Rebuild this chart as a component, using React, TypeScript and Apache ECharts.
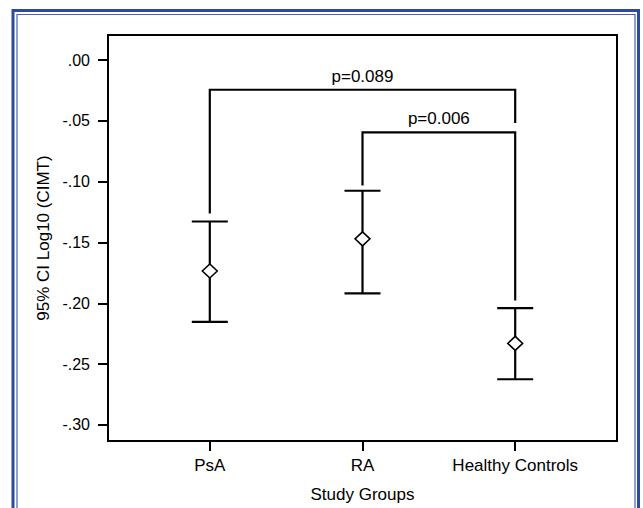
import React, { useEffect, useRef } from 'react';
import * as echarts from 'echarts';

// ---- data ----
const categories = ['PsA', 'RA', 'Healthy Controls'];
const meanValues = [-0.1734, -0.147, -0.233];
const lowerCI = [-0.2153, -0.1919, -0.2625];
const upperCI = [-0.1327, -0.1074, -0.204];

const yTickValues = [0, -0.05, -0.1, -0.15, -0.2, -0.25, -0.3];
const yTickLabels = ['.00', '-.05', '-.10', '-.15', '-.20', '-.25', '-.30'];

const pLabels = ['p=0.089', 'p=0.006'];
const bracketFrom = [0, 1];
const bracketTo = [2, 2];
const bracketTop = [-0.0243, -0.0594];
const bracketLeftEnd = [-0.1262, -0.103];
const bracketRightEnd = [-0.0517, -0.1977];

const FONT = '"Liberation Sans", Arial, Helvetica, sans-serif';

export default function App() {
  const ref = useRef<HTMLDivElement>(null);

  useEffect(() => {
    if (!ref.current) return;
    const chart = echarts.init(ref.current, undefined, { renderer: 'svg' });

    const xPos = categories.map((_, i) => i + 1);
    const errData = categories.map((_, i) => [xPos[i], lowerCI[i], upperCI[i]]);
    const meanData = categories.map((_, i) => [xPos[i], meanValues[i]]);
    const bracketData = pLabels.map((_, i) => [
      bracketFrom[i] + 1,
      bracketTo[i] + 1,
      bracketTop[i],
      bracketLeftEnd[i],
      bracketRightEnd[i],
      i,
    ]);

    const option: any = {
      animation: false,
      backgroundColor: '#ffffff',
      textStyle: { fontFamily: FONT },
      graphic: [
        {
          type: 'rect',
          silent: true,
          shape: { x: 13, y: 10.5, width: 625.5, height: 560 },
          style: { fill: 'none', stroke: '#2c4a9e', lineWidth: 3 },
        },
        {
          type: 'rect',
          silent: true,
          shape: { x: 17, y: 14.5, width: 618, height: 560 },
          style: { fill: 'none', stroke: '#4863b0', lineWidth: 1.2 },
        },
      ],
      grid: {
        left: 108,
        top: 35,
        right: 26,
        bottom: 61,
        show: true,
        borderColor: '#000',
        borderWidth: 2,
        backgroundColor: 'transparent',
      },
      xAxis: {
        type: 'value',
        min: 1 / 3,
        max: 11 / 3,
        name: 'Study Groups',
        nameLocation: 'middle',
        nameGap: 45,
        nameTextStyle: { fontSize: 17, color: '#000', fontFamily: FONT },
        axisLine: { show: true, onZero: false, lineStyle: { color: '#000', width: 2 } },
        axisTick: {
          show: true,
          length: 10,
          inside: false,
          customValues: xPos,
          lineStyle: { color: '#000', width: 2 },
        },
        axisLabel: {
          show: true,
          customValues: xPos,
          margin: 16,
          fontSize: 17,
          color: '#000',
          fontFamily: FONT,
          formatter: (v: number) => categories[Math.round(v) - 1] ?? '',
        },
        splitLine: { show: false },
      },
      yAxis: {
        type: 'value',
        min: -0.31333,
        max: 0.02076,
        name: '95% CI Log10 (CIMT)',
        nameLocation: 'middle',
        nameGap: 56,
        nameRotate: 90,
        nameTextStyle: { fontSize: 17, color: '#000', fontFamily: FONT },
        axisLine: { show: true, onZero: false, lineStyle: { color: '#000', width: 2 } },
        axisTick: {
          show: true,
          length: 10,
          inside: false,
          customValues: yTickValues,
          lineStyle: { color: '#000', width: 2 },
        },
        axisLabel: {
          show: true,
          customValues: yTickValues,
          margin: 18,
          fontSize: 16,
          color: '#000',
          fontFamily: FONT,
          formatter: (v: number) => {
            const idx = yTickValues.findIndex((t) => Math.abs(t - v) < 1e-6);
            return idx >= 0 ? yTickLabels[idx] : '';
          },
        },
        splitLine: { show: false },
      },
      series: [
        {
          type: 'custom',
          name: 'CI',
          coordinateSystem: 'cartesian2d',
          z: 2,
          data: errData,
          renderItem: (params: any, api: any) => {
            const x = api.value(0);
            const lo = api.coord([x, api.value(1)]);
            const hi = api.coord([x, api.value(2)]);
            const half = 18;
            const style = { stroke: '#000', lineWidth: 2.2, fill: 'none' };
            return {
              type: 'group',
              children: [
                { type: 'line', shape: { x1: lo[0], y1: lo[1], x2: hi[0], y2: hi[1] }, style },
                { type: 'line', shape: { x1: lo[0] - half, y1: lo[1], x2: lo[0] + half, y2: lo[1] }, style },
                { type: 'line', shape: { x1: hi[0] - half, y1: hi[1], x2: hi[0] + half, y2: hi[1] }, style },
              ],
            };
          },
        },
        {
          type: 'custom',
          name: 'Brackets',
          coordinateSystem: 'cartesian2d',
          z: 2,
          data: bracketData,
          renderItem: (params: any, api: any) => {
            const x1 = api.value(0);
            const x2 = api.value(1);
            const top = api.value(2);
            const pL = api.coord([x1, api.value(3)]);
            const pT1 = api.coord([x1, top]);
            const pT2 = api.coord([x2, top]);
            const pR = api.coord([x2, api.value(4)]);
            const label = pLabels[api.value(5)];
            return {
              type: 'group',
              children: [
                {
                  type: 'polyline',
                  shape: { points: [pL, pT1, pT2, pR] },
                  style: { stroke: '#000', lineWidth: 2.2, fill: 'none' },
                },
                {
                  type: 'text',
                  style: {
                    text: label,
                    x: (pT1[0] + pT2[0]) / 2,
                    y: pT1[1] - 5,
                    align: 'center',
                    verticalAlign: 'bottom',
                    textAlign: 'center',
                    textVerticalAlign: 'bottom',
                    fontSize: 17,
                    fontFamily: FONT,
                    fill: '#000',
                  },
                },
              ],
            };
          },
        },
        {
          type: 'scatter',
          name: 'Mean',
          z: 5,
          data: meanData,
          symbol: 'diamond',
          symbolSize: [15, 14],
          itemStyle: { color: '#fff', borderColor: '#000', borderWidth: 1.5, opacity: 1 },
        },
      ],
    };

    chart.setOption(option);
    return () => chart.dispose();
  }, []);

  return (
    <div
      ref={ref}
      style={{ position: 'fixed', left: 0, top: 0, width: 643, height: 508, background: '#fff' }}
    />
  );
}
